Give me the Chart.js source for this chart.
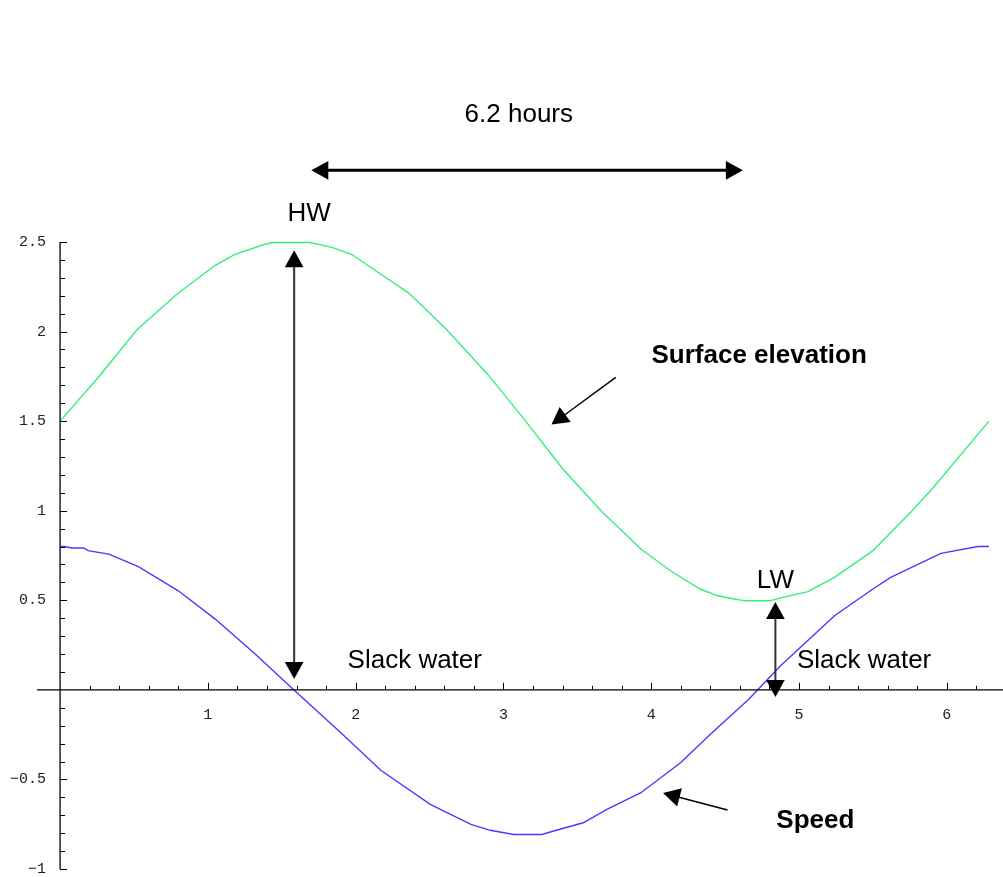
<!DOCTYPE html>
<html>
<head>
<meta charset="utf-8">
<script src="https://cdn.jsdelivr.net/npm/chart.js@4"></script>
<style>
  body { margin: 0; background: #fff; }
  #wrap { width: 1003px; height: 877px; position: relative; }
</style>
</head>
<body>
<div id="wrap"><canvas id="tide-chart"></canvas></div>
<script>
// values (time in radians-ish hours scale)
var elevX = [0, 0.26, 0.52, 0.80, 1.05, 1.18, 1.38, 1.44, 1.69, 1.84, 1.975, 2.17, 2.36, 2.61, 2.89, 3.15, 3.40, 3.66, 3.93, 4.13, 4.33, 4.45, 4.56, 4.64, 4.80, 4.89, 5.06, 5.24, 5.50, 5.755, 5.91, 6.285];
var elevY = [1.50, 1.745, 2.01, 2.215, 2.37, 2.43, 2.486, 2.497, 2.497, 2.47, 2.43, 2.32, 2.215, 2.016, 1.765, 1.50, 1.234, 1.00, 0.786, 0.665, 0.563, 0.525, 0.507, 0.497, 0.497, 0.516, 0.548, 0.628, 0.777, 0.991, 1.131, 1.50];

var speedX = [0, 0.03, 0.08, 0.16, 0.19, 0.33, 0.53, 0.80, 1.05, 1.32, 1.59, 1.90, 2.17, 2.505, 2.78, 2.91, 3.07, 3.26, 3.34, 3.54, 3.70, 3.93, 4.20, 4.40, 4.66, 4.875, 5.24, 5.50, 5.62, 5.96, 6.21, 6.285];
var speedY = [0.80, 0.80, 0.792, 0.792, 0.777, 0.758, 0.688, 0.553, 0.395, 0.20, -0.006, -0.24, -0.449, -0.639, -0.751, -0.784, -0.807, -0.807, -0.788, -0.742, -0.667, -0.574, -0.406, -0.248, -0.052, 0.134, 0.414, 0.563, 0.628, 0.762, 0.80, 0.80];

var xTickLabels = ["1", "2", "3", "4", "5", "6"];
var yTickLabels = ["2.5", "2", "1.5", "1", "0.5", "-0.5", "-1"];

// annotation texts: [text, x, y, bold]
var notes = [
  ["6.2 hours", 3.104, 3.21, false],
  ["HW", 1.686, 2.66, false],
  ["Slack water", 2.40, 0.162, false],
  ["LW", 4.84, 0.61, false],
  ["Slack water", 5.44, 0.162, false],
  ["Surface elevation", 4.73, 1.867, true],
  ["Speed", 5.11, -0.732, true]
];

// arrows: [x1, y1, x2, y2, headAtStart, headAtEnd, width, headLen]
var arrows = [
  [1.70, 2.90, 4.62, 2.90, true, true, 3, 17],
  [1.584, 2.454, 1.584, 0.061, true, true, 2, 17],
  [4.84, 0.49, 4.84, -0.04, true, true, 2, 17],
  [3.76, 1.744, 3.325, 1.481, false, true, 1.5, 17],
  [4.516, -0.671, 4.08, -0.576, false, true, 1.5, 17]
];

function toPoints(xs, ys) {
  return xs.map(function (x, i) { return { x: x, y: ys[i] }; });
}

function drawArrowHead(c, x1, y1, x2, y2, len) {
  var ang = Math.atan2(y2 - y1, x2 - x1);
  var w = len * 0.55;
  c.beginPath();
  c.moveTo(x2, y2);
  c.lineTo(x2 - len * Math.cos(ang) + w * Math.sin(ang), y2 - len * Math.sin(ang) - w * Math.cos(ang));
  c.lineTo(x2 - len * Math.cos(ang) - w * Math.sin(ang), y2 - len * Math.sin(ang) + w * Math.cos(ang));
  c.closePath();
  c.fill();
}

var axesAndNotes = {
  id: "axesAndNotes",
  afterDatasetsDraw: function (chart) {
    var c = chart.ctx;
    var sx = chart.scales.x, sy = chart.scales.y;
    var x0 = sx.getPixelForValue(0), y0 = sy.getPixelForValue(0);
    c.save();
    c.strokeStyle = "#000";
    c.fillStyle = "#000";
    c.lineWidth = 1.3;

    // x axis
    c.beginPath();
    c.moveTo(chart.chartArea.left, y0);
    c.lineTo(chart.chartArea.right, y0);
    c.stroke();
    // y axis
    c.beginPath();
    c.moveTo(x0, sy.getPixelForValue(2.5));
    c.lineTo(x0, sy.getPixelForValue(-1));
    c.stroke();

    c.lineWidth = 1;
    // x ticks every 0.2, major at integers
    for (var i = 1; i <= 31; i++) {
      var v = i * 0.2;
      var px = Math.round(sx.getPixelForValue(v)) + 0.5;
      var major = (i % 5 === 0);
      c.beginPath();
      c.moveTo(px, y0);
      c.lineTo(px, y0 - (major ? 7 : 4));
      c.stroke();
    }
    // y ticks every 0.1, major at 0.5
    for (var j = -10; j <= 25; j++) {
      if (j === 0) continue;
      var py = Math.round(sy.getPixelForValue(j / 10)) + 0.5;
      var maj = (j % 5 === 0);
      c.beginPath();
      c.moveTo(x0, py);
      c.lineTo(x0 + (maj ? 7 : 5), py);
      c.stroke();
    }

    // tick labels
    c.font = "15px 'Liberation Mono', 'DejaVu Sans Mono', monospace";
    c.fillStyle = "#222";
    c.textAlign = "center";
    c.textBaseline = "middle";
    xTickLabels.forEach(function (t) {
      c.fillText(t, sx.getPixelForValue(parseFloat(t)), y0 + 25);
    });
    c.textAlign = "right";
    yTickLabels.forEach(function (t) {
      c.fillText(t.replace("-", "\u2212"), x0 - 14, sy.getPixelForValue(parseFloat(t)));
    });

    // arrows
    c.fillStyle = "#000";
    arrows.forEach(function (a) {
      var ax1 = sx.getPixelForValue(a[0]), ay1 = sy.getPixelForValue(a[1]);
      var ax2 = sx.getPixelForValue(a[2]), ay2 = sy.getPixelForValue(a[3]);
      var ang = Math.atan2(ay2 - ay1, ax2 - ax1);
      var s1 = a[4] ? a[7] * 0.8 : 0, s2 = a[5] ? a[7] * 0.8 : 0;
      c.strokeStyle = a[6] > 1.8 && a[0] === a[2] ? "#333" : "#000";
      c.lineWidth = a[6];
      c.beginPath();
      c.moveTo(ax1 + s1 * Math.cos(ang), ay1 + s1 * Math.sin(ang));
      c.lineTo(ax2 - s2 * Math.cos(ang), ay2 - s2 * Math.sin(ang));
      c.stroke();
      if (a[5]) drawArrowHead(c, ax1, ay1, ax2, ay2, a[7]);
      if (a[4]) drawArrowHead(c, ax2, ay2, ax1, ay1, a[7]);
    });

    // texts
    c.textAlign = "center";
    c.textBaseline = "middle";
    notes.forEach(function (n) {
      c.font = (n[3] ? "bold " : "") + "26px 'Liberation Sans', Arial, sans-serif";
      c.fillStyle = "#000";
      c.fillText(n[0], sx.getPixelForValue(n[1]), sy.getPixelForValue(n[2]));
    });
    c.restore();
  }
};

var ctx = document.getElementById("tide-chart").getContext("2d");
var tideChart = new Chart(ctx, {
  type: "line",
  data: {
    datasets: [
      {
        label: "Surface elevation",
        data: toPoints(elevX, elevY),
        borderColor: "#33f07a",
        borderWidth: 1.4,
        pointRadius: 0,
        tension: 0,
        fill: false,
        clip: false
      },
      {
        label: "Speed",
        data: toPoints(speedX, speedY),
        borderColor: "#5533ff",
        borderWidth: 1.4,
        pointRadius: 0,
        tension: 0,
        fill: false,
        clip: false
      }
    ]
  },
  options: {
    responsive: true,
    maintainAspectRatio: false,
    animation: false,
    layout: { padding: { left: 37, right: 0, top: 242, bottom: 8 } },
    plugins: {
      legend: { display: false },
      tooltip: { enabled: false }
    },
    scales: {
      x: { type: "linear", min: -0.156, max: 6.38, display: false },
      y: { type: "linear", min: -1, max: 2.5, display: false }
    }
  },
  plugins: [axesAndNotes]
});
</script>
</body>
</html>
